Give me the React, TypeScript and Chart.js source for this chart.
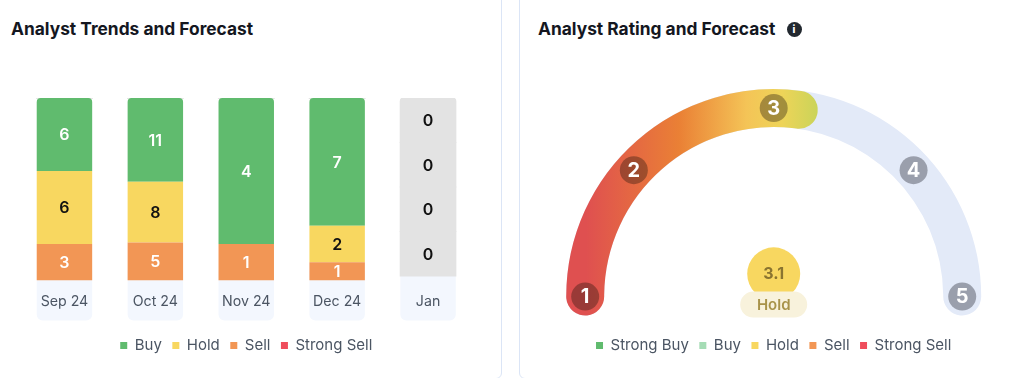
import React, { useEffect, useRef } from "react";
import { Chart, registerables } from "chart.js";

Chart.register(...registerables);

const FONT = "Inter";

const months = ["Sep 24", "Oct 24", "Nov 24", "Dec 24", "Jan"];
const buy = [6, 11, 4, 7, 0];
const hold = [6, 8, 0, 2, 0];
const sell = [3, 5, 1, 1, 0];
const strongSell = [0, 0, 0, 0, 0];
// January has no analyst counts: four equal grey placeholder cells, each reading 0.
const placeholderCounts = [0, 0, 0, 0];
const placeholderShare = 0.2438;

const ratingTicks = [1, 2, 3, 4, 5];
const ratingValue = "3.1";
const ratingLabel = "Hold";
const gaugeFillEnd = 3.17;
const gaugeLegend = ["Strong Buy", "Buy", "Hold", "Sell", "Strong Sell"];

const GREEN = "#60bb6e";
const YELLOW = "#f8d760";
const ORANGE = "#f29655";
const RED = "#ef4d5c";
const LIGHTGREEN = "#a5dcb5";
const gaugeColors = [GREEN, LIGHTGREEN, YELLOW, ORANGE, RED];

const totals = months.map((_, i) => buy[i] + hold[i] + sell[i] + strongSell[i]);
const toShares = (arr: number[]) => arr.map((v, i) => (totals[i] ? v / totals[i] : 0));

const legendOpts = (extra: any = {}) => ({
  position: "bottom" as const,
  labels: {
    boxWidth: 7,
    boxHeight: 7,
    padding: 10.5,
    color: "#4b5563",
    font: { family: FONT, size: 15 },
    ...extra,
  },
});

const barLabels = {
  id: "barLabels",
  afterDatasetsDraw(chart: any) {
    const { ctx } = chart;
    ctx.save();
    ctx.textAlign = "center";
    ctx.textBaseline = "middle";
    ctx.font = `600 16px ${FONT}`;
    chart.data.datasets.forEach((ds: any, d: number) => {
      if (!ds.raw) return;
      chart.getDatasetMeta(d).data.forEach((bar: any, i: number) => {
        const raw = ds.raw[i];
        if (raw === null || raw === undefined) return;
        if (ds.hideZero && raw === 0) return;
        ctx.fillStyle = ds.labelColor;
        ctx.fillText(String(raw), bar.x, (bar.y + bar.base) / 2 + 1);
      });
    });
    ctx.restore();
  },
};

const tickBackground = {
  id: "tickBackground",
  beforeDraw(chart: any) {
    const { ctx, scales } = chart;
    const x = scales.x;
    const half = chart.getDatasetMeta(0).data[0].width / 2;
    ctx.save();
    ctx.fillStyle = "#f3f7fe";
    months.forEach((_, i) => {
      const c = x.getPixelForTick(i);
      ctx.beginPath();
      ctx.roundRect(c - half, x.top - 10, half * 2, 50, [0, 0, 6, 6]);
      ctx.fill();
    });
    ctx.restore();
  },
};

// Marker stations along the gauge, degrees clockwise from the left end.
const MARKER_ANGLES = [0, 42.1, 90, 137.9, 180];

const gaugeMarkers = {
  id: "gaugeMarkers",
  afterDatasetsDraw(chart: any) {
    const { ctx } = chart;
    const arc = chart.getDatasetMeta(0).data[0];
    const cx = arc.x;
    const cy = arc.y;
    const r = (arc.outerRadius + arc.innerRadius) / 2;
    ctx.save();
    ctx.textAlign = "center";
    ctx.textBaseline = "middle";
    ratingTicks.forEach((v, i) => {
      const a = Math.PI + (MARKER_ANGLES[i] / 180) * Math.PI;
      const x = cx + r * Math.cos(a);
      const y = cy + r * Math.sin(a);
      ctx.beginPath();
      ctx.arc(x, y, 14, 0, Math.PI * 2);
      ctx.fillStyle = v <= gaugeFillEnd ? "rgba(30,20,10,0.36)" : "#9a9fac";
      ctx.fill();
      ctx.fillStyle = "#ffffff";
      ctx.font = `700 20px ${FONT}`;
      ctx.fillText(String(v), x, y + 0.5);
    });
    // centre badge
    ctx.beginPath();
    ctx.arc(cx, cy - 22.7, 26.5, 0, Math.PI * 2);
    ctx.fillStyle = YELLOW;
    ctx.fill();
    ctx.beginPath();
    ctx.roundRect(cx - 33.5, cy - 5, 67, 26, 13);
    ctx.fillStyle = "#f8f2dc";
    ctx.fill();
    ctx.fillStyle = "#8a7430";
    ctx.font = `700 16px ${FONT}`;
    ctx.fillText(ratingValue, cx, cy - 22);
    ctx.fillStyle = "#a8934a";
    ctx.font = `600 15px ${FONT}`;
    ctx.fillText(ratingLabel, cx, cy + 9);
    ctx.restore();
  },
};

const CAP_UNITS = 0.1282; // end-cap length on the gauge, in rating units
const gaugeRotation = -90 - (CAP_UNITS / 4) * 180;
const gaugeCircumference = 180 + 2 * (CAP_UNITS / 4) * 180;

export default function App() {
  const barRef = useRef<HTMLCanvasElement>(null);
  const trackRef = useRef<HTMLCanvasElement>(null);
  const fillRef = useRef<HTMLCanvasElement>(null);

  useEffect(() => {
    document.body.style.margin = "0";
    const lastIdx = months.length - 1;
    const barDatasets: any[] = [
      { label: "Strong Sell", data: toShares(strongSell), raw: strongSell, backgroundColor: RED, labelColor: "#fff", hideZero: true },
      { label: "Sell", data: toShares(sell), raw: sell, backgroundColor: ORANGE, labelColor: "#fff", hideZero: true },
      { label: "Hold", data: toShares(hold), raw: hold, backgroundColor: YELLOW, labelColor: "#111", hideZero: true },
      { label: "Buy", data: toShares(buy), raw: buy, backgroundColor: GREEN, labelColor: "#fff", hideZero: true,
        borderRadius: { topLeft: 4, topRight: 4, bottomLeft: 0, bottomRight: 0 }, borderSkipped: false },
      // transparent gap lifting the January stack so that it starts at the top of the plot
      { label: "", data: months.map((_, i) => (i === lastIdx ? 1 - placeholderCounts.length * placeholderShare : 0)), backgroundColor: "rgba(0,0,0,0)" },
    ];
    placeholderCounts.forEach((c, k) => {
      const last = k === placeholderCounts.length - 1;
      barDatasets.push({
        label: "",
        data: months.map((_, i) => (i === lastIdx ? placeholderShare : 0)),
        raw: months.map((_, i) => (i === lastIdx ? c : null)),
        backgroundColor: "#e3e3e3",
        labelColor: "#111",
        inflateAmount: 0.6,
        borderRadius: last ? { topLeft: 4, topRight: 4, bottomLeft: 0, bottomRight: 0 } : 0,
        borderSkipped: false,
      });
    });

    const bar = new Chart(barRef.current!, {
      type: "bar",
      data: { labels: months, datasets: barDatasets },
      options: {
        animation: false,
        responsive: false,
        barPercentage: 0.61,
        categoryPercentage: 1,
        layout: { padding: { left: 19, right: 38.5, top: 98, bottom: 15 } },
        plugins: {
          tooltip: { enabled: false },
          title: { display: false },
          legend: {
            ...legendOpts({ filter: (item: any) => item.text !== "" }),
            reverse: true,
          },
        },
        scales: {
          x: {
            stacked: true,
            grid: { display: false },
            border: { display: false },
            afterFit: (s: any) => { s.height = 47; },
            ticks: { color: "#4b5563", padding: 5, maxRotation: 0, font: { family: FONT, size: 14.2 } },
          },
          y: { stacked: true, display: false, min: 0, max: 1 },
        },
      } as any,
      plugins: [tickBackground, barLabels],
    });

    const track = new Chart(trackRef.current!, {
      type: "doughnut",
      data: {
        labels: gaugeLegend,
        datasets: [{ data: [1, 0, 0, 0, 0], backgroundColor: gaugeColors, borderWidth: 0, clip: false } as any],
      },
      options: {
        animation: false,
        responsive: false,
        rotation: gaugeRotation,
        circumference: gaugeCircumference,
        radius: 207.5,
        cutout: "81.7%",
        layout: { padding: { left: 11.4, right: 0, top: 79, bottom: 15 } },
        elements: { arc: { borderRadius: 19 } },
        plugins: {
          tooltip: { enabled: false },
          legend: legendOpts({
            generateLabels: () =>
              gaugeLegend.map((text, i) => ({
                text,
                fillStyle: gaugeColors[i],
                strokeStyle: gaugeColors[i],
                fontColor: "#4b5563",
                lineWidth: 0,
                hidden: false,
                index: i,
              })),
          }),
        },
      } as any,
      plugins: [{
        id: "trackColor",
        beforeDatasetsDraw(c: any) {
          c.getDatasetMeta(0).data[0].options.backgroundColor = "#e3eaf8";
        },
      }],
    });

    const a = track.chartArea;
    const fctx = fillRef.current!.getContext("2d")!;
    const grad = fctx.createLinearGradient(54, 0, 305, 0);
    grad.addColorStop(0.08, "#df5050");
    grad.addColorStop(0.45, "#ea8035");
    grad.addColorStop(0.72, "#f4c457");
    grad.addColorStop(0.86, "#eed458");
    grad.addColorStop(1, "#cbd459");

    const fill = new Chart(fillRef.current!, {
      type: "doughnut",
      data: {
        labels: ["Rating", "Rest"],
        datasets: [{
          data: [gaugeFillEnd - 1 + 2 * CAP_UNITS, 5 - gaugeFillEnd],
          backgroundColor: [grad, "rgba(0,0,0,0)"],
          borderWidth: 0,
          clip: false,
        } as any],
      },
      options: {
        animation: false,
        responsive: false,
        rotation: gaugeRotation,
        circumference: gaugeCircumference,
        radius: 207.5,
        cutout: "81.7%",
        layout: { padding: { left: a.left, right: 512 - a.right, top: a.top, bottom: 378 - a.bottom } },
        elements: { arc: { borderRadius: 19 } },
        plugins: { tooltip: { enabled: false }, legend: { display: false } },
      } as any,
      plugins: [gaugeMarkers],
    });

    return () => {
      bar.destroy();
      track.destroy();
      fill.destroy();
    };
  }, []);

  const titleStyle: React.CSSProperties = {
    position: "absolute",
    top: 18,
    fontFamily: FONT,
    fontWeight: 700,
    fontSize: 17.35,
    lineHeight: "22px",
    color: "#14171f",
    whiteSpace: "nowrap",
  };
  const canvasStyle: React.CSSProperties = { position: "absolute", top: 0 };

  return (
    <div style={{ position: "absolute", left: 0, top: 0, width: 1024, height: 378, overflow: "hidden", background: "#fff" }}>
      <div style={{ position: "absolute", left: -20, top: -20, width: 520, height: 397, border: "1px solid #dbe5f6", borderRadius: 6 }} />
      <div style={{ position: "absolute", left: 519, top: -20, width: 540, height: 397, border: "1px solid #dbe5f6", borderRadius: 6 }} />
      <div style={{ ...titleStyle, left: 11 }}>Analyst Trends and Forecast</div>
      <div style={{ ...titleStyle, left: 538 }}>Analyst Rating and Forecast</div>
      <div style={{ position: "absolute", left: 786.5, top: 22, width: 15, height: 15, borderRadius: "50%", background: "#22282f", color: "#fff", fontFamily: FONT, fontWeight: 800, fontSize: 10, lineHeight: "15px", textAlign: "center" }}>i</div>
      <canvas ref={barRef} width={512} height={378} style={{ ...canvasStyle, left: 0 }} />
      <canvas ref={trackRef} width={512} height={378} style={{ ...canvasStyle, left: 512 }} />
      <canvas ref={fillRef} width={512} height={378} style={{ ...canvasStyle, left: 512 }} />
    </div>
  );
}
